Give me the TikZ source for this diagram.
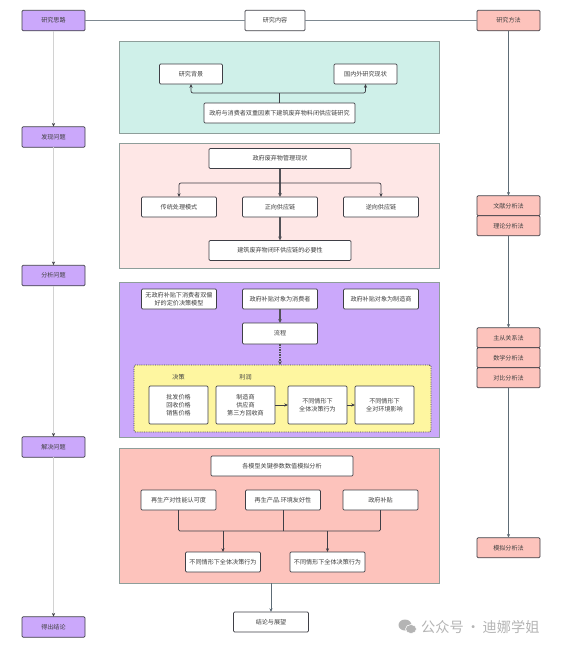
\documentclass[tikz,border=0pt]{standalone}
\usepackage{fontspec}
\setmainfont{Noto Sans CJK SC}
\usetikzlibrary{positioning, arrows.meta, shapes.geometric}
\definecolor{stepPurple}{HTML}{CBA8FB}
\definecolor{methodRed}{HTML}{FDC3BC}
\definecolor{panelGreen}{HTML}{CFF0E9}
\definecolor{panelPink}{HTML}{FEE7E6}
\definecolor{panelYellow}{HTML}{FEF6A0}
\definecolor{edgeDark}{HTML}{3F3F46}
\definecolor{panelEdge}{HTML}{8E9E9A}
\definecolor{lineSlate}{HTML}{5E6C76}
\definecolor{lineLight}{HTML}{D2D2D2}
\definecolor{markGrey}{HTML}{B4B4B4}
\tikzset{
  tbox/.style={draw=edgeDark, line width=0.7pt, rounded corners=1.2pt, inner sep=1pt, outer sep=0pt, align=center,
    text=black!75, minimum width=75pt, minimum height=20pt},
  wbox/.style={tbox, fill=white},
  sbox/.style={wbox, minimum width=63pt},
  lbox/.style={wbox, minimum width=142pt},
  tallbox/.style={wbox, minimum width=59pt, minimum height=38pt},
  stepbox/.style={tbox, fill=stepPurple, minimum width=63pt, minimum height=20.5pt},
  methodbox/.style={tbox, fill=methodRed, minimum width=63pt, minimum height=20pt},
  panelbox/.style={draw=panelEdge, line width=0.6pt, minimum width=320pt, inner sep=0pt, outer sep=0pt},
  darrow/.style={-{Stealth[length=3.8pt,width=3.2pt]}, edgeDark, line width=0.7pt},
  harrow/.style={-{Stealth[length=4pt,width=3.6pt]}, edgeDark!90, line width=1.5pt},
  slarrow/.style={-{Stealth[length=3.8pt,width=3.2pt]}, lineSlate, line width=0.8pt},
  larrow/.style={-{Stealth[length=3.8pt,width=3.2pt,color=edgeDark]}, lineLight, line width=1.3pt},
}
\begin{document}
\begin{tikzpicture}[x=1pt, y=1pt, font=\fontsize{6.1}{7.8}\selectfont]
    \useasboundingbox (0,0) rectangle (561,-649);
    % panels
    \node[panelbox, fill=panelGreen, minimum height=92pt] (pgreen) at (279.5,-87) {};
    \node[panelbox, fill=panelPink, minimum height=125pt] (ppink) at (279.5,-205.5) {};
    \node[panelbox, fill=stepPurple, minimum height=155pt] (ppurple) at (279.5,-359.5) {};
    \node[panelbox, fill=methodRed, minimum height=135pt] (pred) at (279.5,-515.5) {};
    \node[draw=edgeDark, fill=panelYellow, densely dotted, line width=0.8pt, rounded corners=1.5pt,
      minimum width=297pt, minimum height=67pt, inner sep=0pt, outer sep=0pt] (pyellow) at (282.5,-398.5) {};

    % left column
    \node[stepbox] (sidea) at (53.5,-20.5) {研究思路};
    \node[stepbox, below=96pt of sidea] (sfind) {发现问题};
    \node[stepbox, below=118pt of sfind] (sanalyse) {分析问题};
    \node[stepbox, below=151pt of sanalyse] (ssolve) {解决问题};
    \node[stepbox, below=159.5pt of ssolve] (send) {得出结论};
    \draw[larrow] (sidea) -- (sfind);
    \draw[larrow] (sfind) -- (sanalyse);
    \draw[larrow] (sanalyse) -- (ssolve);
    \draw[larrow] (ssolve) -- (send);

    % header
    \node[wbox, minimum width=60pt, minimum height=20.5pt] (hcontent) at (275,-20.5) {研究内容};
    \node[methodbox, minimum height=20.5pt] (hmethod) at (508.5,-20.5) {研究方法};
    \draw[lineSlate!80, line width=0.8pt] (sidea) -- (hcontent);
    \draw[lineSlate!80, line width=0.8pt] (hcontent) -- (hmethod);

    % right column
    \node[methodbox, below=165pt of hmethod] (mlit) {文献分析法};
    \node[methodbox, below=0pt of mlit] (mtheory) {理论分析法};
    \node[methodbox, below=92pt of mtheory] (mstack) {主从关系法};
    \node[methodbox, below=0pt of mstack] (mmath) {数学分析法};
    \node[methodbox, below=0pt of mmath] (mcomp) {对比分析法};
    \node[methodbox, below=150pt of mcomp] (msim) {模拟分析法};
    \draw[slarrow] (hmethod) -- (mlit);
    \draw[slarrow] (mtheory) -- (mstack);
    \draw[slarrow] (mcomp) -- (msim);

    % green panel
    \node[sbox] (gback) at (191,-74) {研究背景};
    \node[sbox] (gstate) at (365.5,-74) {国内外研究现状};
    \node[wbox, minimum width=151pt] (gtopic) at (279.5,-113) {政府与消费者双重因素下建筑废弃物料闭供应链研究};
    \coordinate (gmid) at (279.5,-93);
    \draw[edgeDark, line width=1.1pt] (gtopic) -- (gmid);
    \draw[darrow, rounded corners=2pt] (gmid) -| (gback);
    \draw[darrow, rounded corners=2pt] (gmid) -| (gstate);

    % pink panel
    \node[lbox] (pstatus) at (280,-158.5) {政府废弃物管理现状};
    \node[wbox] (ptrad) at (179,-207) {传统处理模式};
    \node[wbox, right=26pt of ptrad] (pfwd) {正向供应链};
    \node[wbox, right=26pt of pfwd] (prev) {逆向供应链};
    \node[lbox] (pneed) at (280,-250.5) {建筑废弃物闭环供应链的必要性};
    \coordinate (pmid) at (280,-183);
    \draw[harrow] (pstatus) -- (pfwd);
    \draw[darrow, rounded corners=2pt] (pmid) -| (ptrad);
    \draw[darrow, rounded corners=2pt] (pmid) -| (prev);
    \draw[harrow] (pfwd) -- (pneed);

    % purple panel
    \node[wbox] (bnone) at (179,-299) {无政府补贴下消费者双偏\\好的定价决策模型};
    \node[wbox, right=26pt of bnone] (bcons) {政府补贴对象为消费者};
    \node[wbox, right=26pt of bcons] (bmanu) {政府补贴对象为制造商};
    \node[wbox, below=14pt of bcons, minimum height=21pt] (bflow) {流程};
    \draw[harrow] (bcons) -- (bflow);
    \draw[harrow, densely dotted] (bflow) -- (bflow |- pyellow.north);

    % yellow panel
    \node[tallbox] (yprice) at (178.5,-405) {批发价格\\回收价格\\销售价格};
    \node[tallbox, right=8pt of yprice] (yrole) {制造商\\供应商\\第三方回收商};
    \node[tallbox, right=13pt of yrole] (ydec) {不同情形下\\全体决策行为};
    \node[tallbox, right=8pt of ydec] (yenv) {不同情形下\\全对环境影响};
    \node[above=2pt of yprice, text=black!75] (ldec) {决策};
    \node[above=2pt of yrole, text=black!75] (lprofit) {利润};
    \draw[darrow] (yrole) -- (ydec);
    \draw[darrow] (ydec) -- (yenv);

    % red panel
    \node[lbox] (rparam) at (282,-466) {各模型关键参数数值模拟分析};
    \node[wbox] (raware) at (178.5,-500) {再生产对性能认可度};
    \node[wbox] (rgreen) at (283,-500) {再生产品.环境友好性};
    \node[wbox] (rsub) at (380.5,-500) {政府补贴};
    \node[wbox] (rleft) at (223,-562) {不同情形下全体决策行为};
    \node[wbox] (rright) at (327.5,-562) {不同情形下全体决策行为};
    \coordinate (rjoin) at (283,-531);
    \draw[edgeDark, line width=0.7pt, rounded corners=1.5pt] (raware.south) |- (rjoin);
    \draw[edgeDark, line width=0.7pt] (rgreen) -- (rjoin);
    \draw[edgeDark, line width=0.7pt, rounded corners=1.5pt] (rsub.south) |- (rjoin);
    \draw[darrow] (rleft |- rjoin) -- (rleft);
    \draw[darrow] (rright |- rjoin) -- (rright);

    % result
    \node[wbox] (concl) at (271,-622) {结论与展望};
    \draw[slarrow] (concl |- pred.south) -- (concl);

    % watermark
    \fill[markGrey] (405,-625) ellipse (6.5pt and 5.5pt);
    \fill[markGrey, draw=white, line width=0.6pt] (411,-629) ellipse (5.5pt and 4.5pt);
    \node[text=markGrey, font=\fontsize{14.2}{16}\selectfont, anchor=west, inner sep=0pt] (wmark) at (421,-627) {公众号\,·\,迪娜学姐};
  \end{tikzpicture}
\end{document}
